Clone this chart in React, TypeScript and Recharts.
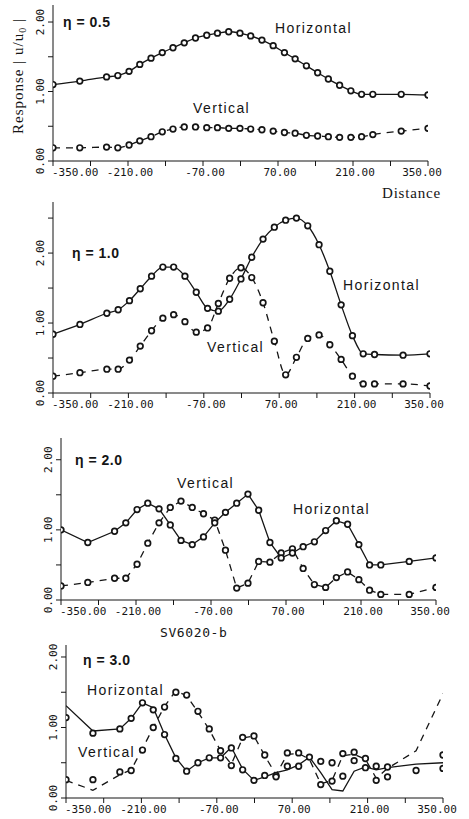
import React from 'react';
import { LineChart, Line, XAxis, YAxis } from 'recharts';

// sampling positions along the section (same for every panel)
const distance = [-350, -300, -250, -229, -208, -188, -167, -146, -126, -105, -84, -63, -43, -22, -1, 19, 40, 61, 82, 102, 123, 144, 164, 185, 206, 226, 247, 300, 350];

const xTicks = [-350, -280, -210, -140, -70, 0, 70, 140, 210, 280, 350];
const xLabels = [-350, -210, -70, 70, 210, 350];

// eta = 0.5
const horizontal05 = [1.10, 1.15, 1.21, 1.23, 1.29, 1.39, 1.48, 1.56, 1.63, 1.70, 1.77, 1.81, 1.84, 1.86, 1.84, 1.80, 1.74, 1.66, 1.56, 1.47, 1.37, 1.27, 1.18, 1.09, 1.01, 0.96, 0.96, 0.96, 0.95];
const vertical05 = [0.19, 0.19, 0.20, 0.19, 0.23, 0.29, 0.35, 0.42, 0.46, 0.49, 0.49, 0.48, 0.48, 0.47, 0.47, 0.46, 0.45, 0.43, 0.41, 0.40, 0.37, 0.36, 0.35, 0.34, 0.34, 0.35, 0.38, 0.43, 0.47];

// eta = 1.0
const horizontal10 = [0.84, 0.98, 1.14, 1.19, 1.32, 1.49, 1.67, 1.80, 1.80, 1.67, 1.44, 1.21, 1.17, 1.34, 1.63, 1.94, 2.20, 2.37, 2.47, 2.50, 2.39, 2.12, 1.74, 1.26, 0.82, 0.56, 0.55, 0.54, 0.56];
const vertical10 = [0.24, 0.29, 0.34, 0.34, 0.47, 0.67, 0.89, 1.07, 1.12, 1.02, 0.87, 0.93, 1.28, 1.64, 1.79, 1.65, 1.29, 0.74, 0.26, 0.51, 0.78, 0.83, 0.69, 0.48, 0.24, 0.13, 0.13, 0.13, 0.10];

// eta = 2.0
const horizontal20 = [1.00, 0.82, 0.98, 1.10, 1.29, 1.38, 1.30, 1.07, 0.85, 0.79, 0.90, 1.10, 1.25, 1.38, 1.51, 1.28, 0.82, 0.60, 0.67, 0.76, 0.83, 0.99, 1.13, 1.08, 0.79, 0.50, 0.50, 0.55, 0.60];
const vertical20 = [0.20, 0.25, 0.31, 0.31, 0.51, 0.81, 1.10, 1.32, 1.41, 1.32, 1.23, 1.14, 0.71, 0.17, 0.24, 0.55, 0.54, 0.67, 0.73, 0.45, 0.22, 0.18, 0.32, 0.40, 0.29, 0.14, 0.08, 0.08, 0.18];

// eta = 3.0 -- measured points and the curves drawn separately
const horizontal30 = [1.14, 0.92, 0.98, 1.13, 1.35, 1.25, 0.90, 0.56, 0.38, 0.50, 0.57, 0.57, 0.71, 0.40, 0.25, 0.32, 0.32, 0.45, 0.45, 0.58, 0.52, 0.50, 0.31, 0.53, 0.43, 0.45, 0.44, 0.39, 0.61];
const vertical30 = [0.26, 0.26, 0.37, 0.39, 0.68, 1.00, 1.29, 1.50, 1.46, 1.23, 0.98, 0.67, 0.46, 0.86, 0.88, 0.61, 0.30, 0.64, 0.64, null, 0.19, 0.24, 0.63, 0.65, 0.56, 0.25, 0.30, null, 0.42];
const horizontalCurve30 = [1.31, 0.95, 0.98, 1.13, 1.35, 1.28, 0.90, 0.57, 0.38, 0.50, 0.57, 0.57, 0.72, 0.41, 0.25, 0.30, 0.36, 0.40, 0.47, 0.58, 0.36, 0.12, 0.10, 0.38, 0.44, 0.40, 0.43, 0.48, 0.50];
const verticalCurve30 = [0.25, 0.11, 0.33, 0.40, 0.70, 1.00, 1.30, 1.52, 1.45, 1.22, 0.97, 0.67, 0.48, 0.85, 0.88, 0.60, 0.33, 0.62, 0.63, 0.55, 0.20, 0.25, 0.60, 0.62, 0.55, 0.28, 0.42, 0.67, 1.48];

const ink = '#151515';

const buildRows = (h: any[], v: any[], hl?: any[], vl?: any[]) =>
    distance.map((x, i) => ({
        x,
        h: h[i],
        v: v[i],
        hl: hl ? hl[i] : undefined,
        vl: vl ? vl[i] : undefined,
    }));

const MarkerDot = (props: any) => {
    const { cx, cy, value } = props;
    if (cx == null || cy == null || value == null) return <g />;
    return <circle cx={cx} cy={cy} r={2.8} fill="#fff" stroke={ink} strokeWidth={1.7} />;
};

const XTick = (props: any) => {
    const { x, y, payload } = props;
    const v = payload.value;
    if (!xLabels.includes(v)) return <g />;
    const anchor = v === -350 ? 'start' : 'middle';
    const dx = v === 350 ? -6 : v === -350 ? -1 : 2;
    return (
        <text x={x + dx} y={y} dy="0.72em" textAnchor={anchor} fontFamily="DejaVu Sans Mono" fontSize={11} fill={ink}>
            {v.toFixed(2)}
        </text>
    );
};

const YTick = (props: any) => {
    const { x, y, payload } = props;
    const v = payload.value;
    if (v % 1 !== 0) return <g />;
    const bx = x - 2;
    return (
        <text x={bx} y={y} transform={`rotate(-90 ${bx} ${y})`} textAnchor="middle" fontFamily="DejaVu Sans Mono" fontSize={11} fill={ink}>
            {v.toFixed(2)}
        </text>
    );
};

interface PanelProps {
    left: number;
    right: number;
    plotTop: number;
    plotBottom: number;
    yMax: number;
    yTicks: number[];
    rows: any[];
    curve: 'monotone' | 'linear';
    split?: boolean;
}

const Panel: React.FC<PanelProps> = ({ left, right, plotTop, plotBottom, yMax, yTicks, rows, curve, split }) => {
    const mTop = 5;
    const axisH = 24;
    const chartTop = plotTop - mTop;
    const height = plotBottom - chartTop + axisH;

    return (
        <div style={{ position: 'absolute', left: 0, top: chartTop }}>
            <LineChart width={469} height={height} data={rows} margin={{ top: mTop, right: 469 - right, bottom: 0, left: 0 }}>
                <XAxis
                    type="number"
                    dataKey="x"
                    domain={[-350, 350]}
                    ticks={xTicks}
                    interval={0}
                    tick={XTick}
                    tickSize={5}
                    height={axisH}
                    stroke={ink}
                    allowDataOverflow
                />
                <YAxis
                    type="number"
                    domain={[0, yMax]}
                    ticks={yTicks}
                    interval={0}
                    tick={YTick}
                    tickSize={5}
                    width={left}
                    stroke={ink}
                    allowDataOverflow
                />

                {split ? (
                    <>
                        {/* curves */}
                        <Line dataKey="hl" type="linear" stroke={ink} strokeWidth={1.3} dot={false} isAnimationActive={false} />
                        <Line dataKey="vl" type="linear" stroke={ink} strokeWidth={1.3} strokeDasharray="7 6" dot={false} isAnimationActive={false} />
                        {/* measured points */}
                        <Line dataKey="h" stroke="none" dot={MarkerDot} isAnimationActive={false} />
                        <Line dataKey="v" stroke="none" dot={MarkerDot} isAnimationActive={false} />
                    </>
                ) : (
                    <>
                        <Line dataKey="v" type={curve} stroke={ink} strokeWidth={1.3} strokeDasharray="7 6" dot={MarkerDot} isAnimationActive={false} />
                        <Line dataKey="h" type={curve} stroke={ink} strokeWidth={1.3} dot={MarkerDot} isAnimationActive={false} />
                    </>
                )}
            </LineChart>
        </div>
    );
};

const labelFont = { fontFamily: '"Liberation Sans", Arial, sans-serif', fontSize: 14, letterSpacing: 1.4, fill: ink };
const etaFont = { fontFamily: '"Liberation Sans", Arial, sans-serif', fontSize: 14, fontWeight: 700, letterSpacing: 0.5, fill: ink };

const Annotations = () => (
    <svg width={469} height={819} style={{ position: 'absolute', left: 0, top: 0, pointerEvents: 'none' }}>
        {/* panel 1 */}
        <text x={63} y={27} {...etaFont}>η = 0.5</text>
        <text x={275} y={33} {...labelFont}>Horizontal</text>
        <text x={193} y={113} {...labelFont}>Vertical</text>
        <text x={382} y={198} fontFamily='"Liberation Serif", serif' fontSize={15} letterSpacing={0.8} fill={ink}>Distance</text>
        <text
            x={23}
            y={76}
            transform="rotate(-90 23 76)"
            textAnchor="middle"
            fontFamily='"Liberation Serif", serif'
            fontSize={15}
            letterSpacing={1}
            fill={ink}
        >
            Response | u/u<tspan dy={3} fontSize={10}>0</tspan><tspan dy={-3}> |</tspan>
        </text>

        {/* panel 2 */}
        <text x={72} y={258} {...etaFont}>η = 1.0</text>
        <text x={343} y={290} {...labelFont}>Horizontal</text>
        <text x={207} y={352} {...labelFont}>Vertical</text>

        {/* panel 3 */}
        <text x={75} y={465} {...etaFont}>η = 2.0</text>
        <text x={177} y={488} {...labelFont}>Vertical</text>
        <text x={293} y={514} {...labelFont}>Horizontal</text>
        <text x={160} y={637} fontFamily="DejaVu Sans Mono" fontSize={13} letterSpacing={0.6} fill={ink}>SV6020-b</text>

        {/* panel 4 */}
        <text x={83} y={665} {...etaFont}>η = 3.0</text>
        <text x={87} y={695} {...labelFont}>Horizontal</text>
        <text x={78} y={757} {...labelFont}>Vertical</text>
    </svg>
);

const App = () => {
    return (
        <div style={{ position: 'relative', width: 469, height: 819, background: '#fff' }}>
            <style>{'body{margin:0;background:#fff}'}</style>
            <Panel left={53} right={428} plotTop={5} plotBottom={161} yMax={2.245} yTicks={[0, 0.5, 1, 1.5, 2]} rows={buildRows(horizontal05, vertical05)} curve="monotone" />
            <Panel left={53} right={430} plotTop={202} plotBottom={393} yMax={2.73} yTicks={[0, 0.5, 1, 1.5, 2, 2.5]} rows={buildRows(horizontal10, vertical10)} curve="monotone" />
            <Panel left={61} right={436} plotTop={438} plotBottom={600} yMax={2.31} yTicks={[0, 0.5, 1, 1.5, 2]} rows={buildRows(horizontal20, vertical20)} curve="linear" />
            <Panel
                left={66}
                right={443}
                plotTop={645}
                plotBottom={798}
                yMax={2.17}
                yTicks={[0, 0.5, 1, 1.5, 2]}
                rows={buildRows(horizontal30, vertical30, horizontalCurve30, verticalCurve30)}
                curve="linear"
                split
            />
            <Annotations />
        </div>
    );
};

export default App;
